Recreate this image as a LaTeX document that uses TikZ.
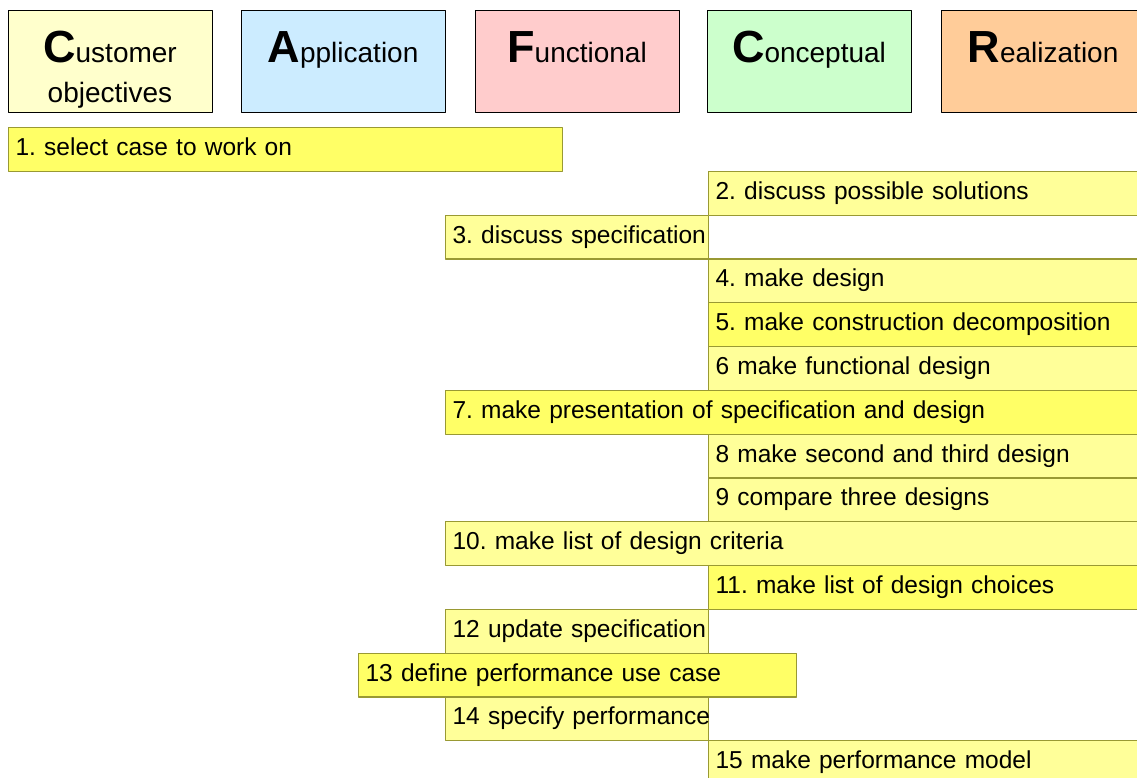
\documentclass[tikz,border=0pt]{standalone}
\usepackage{fontspec}
\setmainfont{Liberation Sans}
\frenchspacing
\definecolor{custfill}{HTML}{FFFFCC}
\definecolor{applfill}{HTML}{CCECFF}
\definecolor{funcfill}{HTML}{FFCCCC}
\definecolor{concfill}{HTML}{CCFFCC}
\definecolor{realfill}{HTML}{FFCC99}
\definecolor{brightbar}{HTML}{FFFF66}
\definecolor{palebar}{HTML}{FFFF99}
\definecolor{barline}{HTML}{999933}
\newcommand\initial[1]{{\fontsize{45}{50}\selectfont\bfseries #1}}
\begin{document}
\begin{tikzpicture}[line join=round,x=1pt,y=-1pt,
  hdr/.style={draw=black,line width=1pt,anchor=north west,minimum width=204,minimum height=102,inner sep=0},
  hdrtext/.style={anchor=base,font=\fontsize{28}{32}\selectfont},
  bar/.style={draw=barline,line width=1.2pt,anchor=north west,minimum height=43.8,inner xsep=7pt,inner ysep=0pt,
    text height=17pt,text depth=5pt,align=left,font=\fontsize{24.5}{28}\selectfont,
    execute at begin node=\hbox\bgroup,execute at end node=\egroup},
  bright/.style={bar,fill=brightbar},
  pale/.style={bar,fill=palebar}]
\useasboundingbox (0,0) rectangle (1137,778);
% view headers
\node[hdr,fill=custfill] (cust) at (8,10) {};
\node[hdr,fill=applfill] (appl) at (241,10) {};
\node[hdr,fill=funcfill] (func) at (475,10) {};
\node[hdr,fill=concfill] (conc) at (707,10) {};
\node[hdr,fill=realfill] (real) at (941,10) {};
\node[hdrtext] (custT) at (110,63) {\initial{C}ustomer};
\node[hdrtext] (custU) at (110,103) {objectives};
\node[hdrtext] (applT) at (343,63) {\initial{A}pplication};
\node[hdrtext] (funcT) at (577,63) {\initial{F}unctional};
\node[hdrtext] (concT) at (809,63) {\initial{C}onceptual};
\node[hdrtext] (realT) at (1043,63) {\initial{R}ealization};
% steps
\node[bright,text width=540pt] (s1) at (8,127) {1. select case to work on};
\node[pale,text width=423pt] (s2) at (708,170.8) {2. discuss possible solutions};
\node[pale,text width=249pt] (s3) at (445,214.6) {3. discuss specification};
\node[pale,text width=423pt] (s4) at (708,258.4) {4. make design};
\node[bright,text width=423pt] (s5) at (708,302.2) {5. make construction decomposition};
\node[pale,text width=423pt] (s6) at (708,346) {6 make functional design};
\node[bright,text width=686pt] (s7) at (445,389.8) {7. make presentation of specification and design};
\node[pale,text width=423pt] (s8) at (708,433.6) {8 make second and third design};
\node[pale,text width=423pt] (s9) at (708,477.4) {9 compare three designs};
\node[pale,text width=686pt] (s10) at (445,521.2) {10. make list of design criteria};
\node[bright,text width=423pt] (s11) at (708,565) {11. make list of design choices};
\node[pale,text width=249pt] (s12) at (445,608.8) {12 update specification};
\node[bright,text width=424pt] (s13) at (358,652.6) {13 define performance use case};
\node[pale,text width=249pt] (s14) at (445,696.4) {14 specify performance};
\node[pale,text width=423pt] (s15) at (708,740.2) {15 make performance model};
\end{tikzpicture}
\end{document}
